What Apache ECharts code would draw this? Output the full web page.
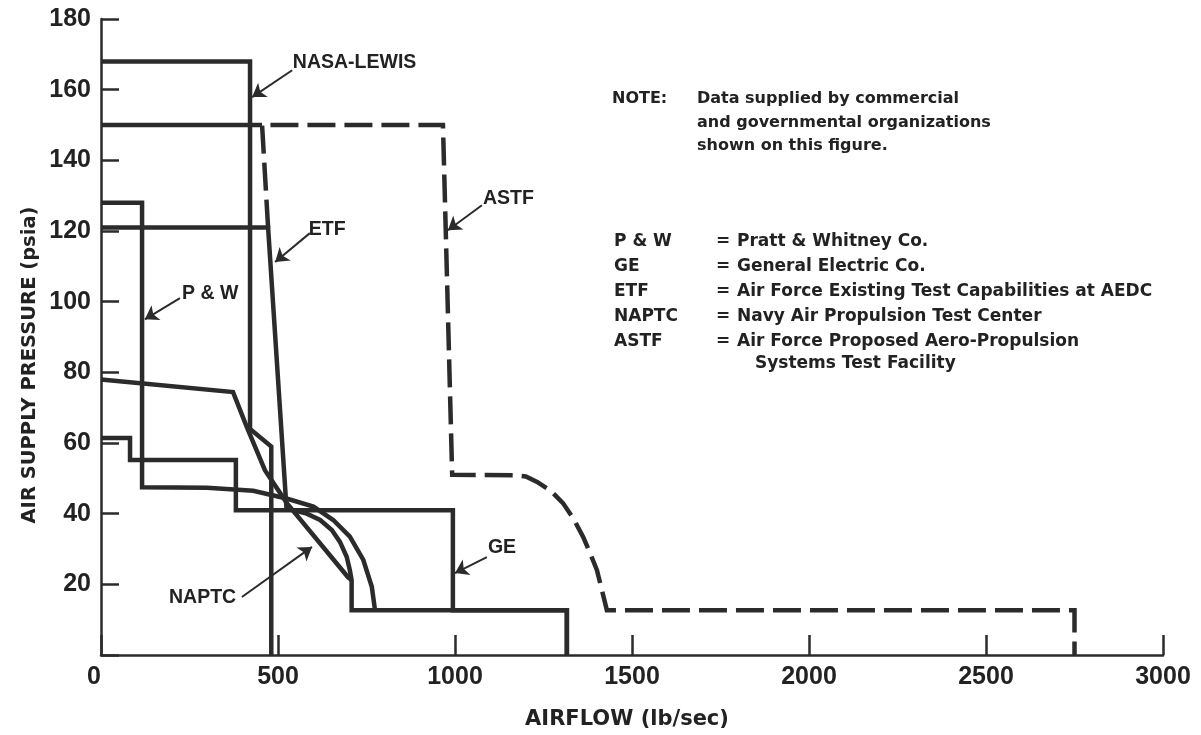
<!DOCTYPE html>
<html>
<head>
<meta charset="utf-8">
<script src="https://cdn.jsdelivr.net/npm/echarts@6/dist/echarts.min.js"></script>
<style>
html,body{margin:0;padding:0;background:#fff;}
#chart{width:1201px;height:735px;}
</style>
</head>
<body>
<div id="chart"></div>
<script>
// ---- data (airflow lb/sec, pressure psia) ----
const xTicks = [0, 500, 1000, 1500, 2000, 2500, 3000];
const yTicks = [20, 40, 60, 80, 100, 120, 140, 160, 180];

const nasaLewis = [[0,168],[421,168],[421,64],[481,59],[481,0]];
const pw = [[0,128],[116,128],[116,47.5],[300,47.3],[430,46.5],[524,44.3],[600,42],[656,38.2],[703,33.5],[741,26.9],[765,19.3],[774,12.7]];
const ge = [[0,61.4],[82,61.4],[82,55.2],[381,55.2],[381,41],[994,41],[994,12.7],[1316,12.7],[1316,0]];
const etf = [[0,121],[472,121],[524,41.5],[581,40],[619,38.2],[652,35.4],[675,32],[694,27.8],[703,24],[708,21.2],[708,12.7],[1316,12.7],[1316,0]];
const naptc = [[0,78],[373,74.4],[412,64.5],[463,52.3],[525,43],[698,22],[708,21.2]];
const astfSolid = [[0,150],[455,150]];
const astf = [[472,121],[455,150],[966,150],[992,51],[1164,50.9],[1200,50.5],[1232,49],[1270,46.5],[1305,43],[1335,38.5],[1362,33.4],[1383,28.5],[1401,24],[1429,12.7],[2750,12.7],[2750,0]];

// curve labels: [x, y, text]
const curveLabels = [[542,167.7,'NASA-LEWIS'],[587,120.5,'ETF'],[229,102.4,'P & W'],[1079,129.3,'ASTF'],[1093,30.3,'GE'],[192,16.1,'NAPTC']];
// leader lines: from label to curve
const leaders = [
  [[540,165.5],[427,157.9]],
  [[590,119.4],[492,111.2]],
  [[223,101],[124,95]],
  [[1076,127.3],[980,120.2]],
  [[1090,27.7],[1000,23.2]],
  [[398,16.4],[596,30.6]]
];

const noteLines = ['Data supplied by commercial','and governmental organizations','shown on this figure.'];
const abbrevs = ['P & W','GE','ETF','NAPTC','ASTF'];
const meanings = ['Pratt & Whitney Co.','General Electric Co.','Air Force Existing Test Capabilities at AEDC','Navy Air Propulsion Test Center','Air Force Proposed Aero-Propulsion'];
const meaningCont = 'Systems Test Facility';

// ---- chart ----
const INK = '#222222';
const chart = echarts.init(document.getElementById('chart'));

function lineSeries(name, data, dashed) {
  return {
    name: name, type: 'line', data: data, showSymbol: false, symbol: 'none',
    clip: false, animation: false, silent: true,
    lineStyle: { color: '#2b2b2b', width: 4.5, type: dashed ? [28, 9] : 'solid', join: 'miter', cap: 'butt' }
  };
}

const NOTE_FONT = 'bold 16px "DejaVu Sans", sans-serif';
const LEG_FONT = 'bold 17px "DejaVu Sans", sans-serif';
const graphics = [];
graphics.push({ type: 'text', left: 612, top: 91, style: { text: 'NOTE:', font: NOTE_FONT, fill: INK } });
noteLines.forEach((t, i) => graphics.push({ type: 'text', left: 697, top: 91 + i * 23.5, style: { text: t, font: NOTE_FONT, fill: INK } }));
const rowY = [233, 258, 283, 308, 333];
abbrevs.forEach((t, i) => {
  graphics.push({ type: 'text', left: 614, top: rowY[i], style: { text: t, font: LEG_FONT, fill: INK } });
  graphics.push({ type: 'text', left: 716, top: rowY[i], style: { text: '=', font: LEG_FONT, fill: INK } });
  graphics.push({ type: 'text', left: 737, top: rowY[i], style: { text: meanings[i], font: LEG_FONT, fill: INK } });
});
graphics.push({ type: 'text', left: 755, top: 355, style: { text: meaningCont, font: LEG_FONT, fill: INK } });
// axis titles
graphics.push({ type: 'text', x: 30, y: 365, rotation: Math.PI / 2, style: { text: 'AIR SUPPLY PRESSURE (psia)', font: 'bold 19.5px "DejaVu Sans", sans-serif', fill: INK, align: 'center', verticalAlign: 'middle' } });
graphics.push({ type: 'text', x: 627, y: 720, style: { text: 'AIRFLOW (lb/sec)', font: 'bold 21px "DejaVu Sans", sans-serif', fill: INK, align: 'center', verticalAlign: 'middle' } });

const option = {
  backgroundColor: '#ffffff',
  animation: false,
  grid: { left: 101, right: 38, top: 19, bottom: 80, containLabel: false },
  xAxis: {
    type: 'value', min: xTicks[0], max: xTicks[xTicks.length - 1], interval: 500,
    axisLine: { show: true, lineStyle: { color: '#2b2b2b', width: 2.5 } },
    axisTick: { show: true, inside: true, length: 20, lineStyle: { color: '#2b2b2b', width: 2.5 } },
    axisLabel: { show: true, margin: 10, color: INK, fontSize: 25, fontWeight: 'bold', fontFamily: 'Liberation Sans, Arial, sans-serif',
      formatter: v => xTicks.indexOf(v) >= 0 ? String(v) : '', alignMinLabel: 'right' },
    splitLine: { show: false }
  },
  yAxis: {
    type: 'value', min: 0, max: yTicks[yTicks.length - 1], interval: 20,
    axisLine: { show: true, lineStyle: { color: '#2b2b2b', width: 2.5 } },
    axisTick: { show: true, inside: true, length: 18, lineStyle: { color: '#2b2b2b', width: 2.5 } },
    axisLabel: { show: true, margin: 10, color: INK, fontSize: 25, fontWeight: 'bold', fontFamily: 'Liberation Sans, Arial, sans-serif',
      formatter: v => yTicks.indexOf(v) >= 0 ? String(v) : '' },
    splitLine: { show: false }
  },
  series: [
    lineSeries('NASA-LEWIS', nasaLewis, false),
    lineSeries('P & W', pw, false),
    lineSeries('GE', ge, false),
    lineSeries('ETF', etf, false),
    lineSeries('NAPTC', naptc, false),
    lineSeries('ASTF-solid', astfSolid, false),
    lineSeries('ASTF', astf, true),
    {
      type: 'lines', coordinateSystem: 'cartesian2d', silent: true, animation: false,
      symbol: ['none', 'arrow'], symbolSize: [7, 13],
      lineStyle: { color: '#2b2b2b', width: 2, opacity: 1, curveness: 0 },
      data: leaders.map(c => ({ coords: c }))
    },
    {
      type: 'scatter', symbolSize: 0, silent: true, animation: false,
      itemStyle: { opacity: 1 },
      data: curveLabels,
      label: { show: true, position: 'right', distance: 0, formatter: p => p.data[2], opacity: 1,
        color: INK, fontSize: 19.5, fontWeight: 'bold', fontFamily: 'Liberation Sans, Arial, sans-serif' }
    }
  ],
  graphic: graphics
};
chart.setOption(option);
</script>
</body>
</html>
